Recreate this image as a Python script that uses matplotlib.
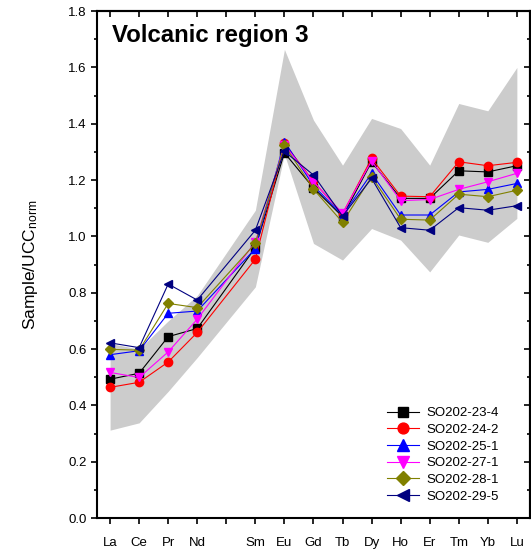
import numpy as np
import matplotlib
matplotlib.use("Agg")
import matplotlib.pyplot as plt

plt.rcParams["font.family"] = ["Liberation Sans", "DejaVu Sans"]
plt.rcParams["mathtext.default"] = "regular"

# REE sequence (Pm kept as an empty slot on the axis)
ree = ["La", "Ce", "Pr", "Nd", "Pm", "Sm", "Eu", "Gd", "Tb", "Dy",
       "Ho", "Er", "Tm", "Yb", "Lu"]
elements = ["La", "Ce", "Pr", "Nd", "Sm", "Eu", "Gd", "Tb", "Dy",
            "Ho", "Er", "Tm", "Yb", "Lu"]

# grey envelope (range of the region)
band_upper = [0.62, 0.60, 0.70, 0.79, 1.093, 1.664, 1.413, 1.253, 1.419,
              1.383, 1.253, 1.472, 1.446, 1.600]
band_lower = [0.312, 0.338, 0.45, 0.57, 0.821, 1.292, 0.975, 0.916, 1.028,
              0.987, 0.874, 1.005, 0.979, 1.064]

so202_23_4 = [0.493, 0.514, 0.644, 0.673, 0.960, 1.297, 1.172, 1.070, 1.265,
              1.135, 1.135, 1.233, 1.229, 1.251]
so202_24_2 = [0.464, 0.482, 0.554, 0.659, 0.919, 1.330, 1.195, 1.080, 1.277,
              1.143, 1.141, 1.265, 1.251, 1.263]
so202_25_1 = [0.580, 0.594, 0.727, 0.735, 0.957, 1.337, 1.180, 1.075, 1.224,
              1.076, 1.076, 1.158, 1.167, 1.188]
so202_27_1 = [0.517, 0.499, 0.590, 0.706, 0.980, 1.325, 1.194, 1.082, 1.268,
              1.127, 1.131, 1.167, 1.194, 1.224]
so202_28_1 = [0.599, 0.596, 0.762, 0.747, 0.975, 1.324, 1.168, 1.050, 1.212,
              1.061, 1.058, 1.150, 1.141, 1.164]
so202_29_5 = [0.622, 0.605, 0.831, 0.774, 1.022, 1.302, 1.218, 1.072, 1.206,
              1.031, 1.022, 1.102, 1.093, 1.109]

samples = ["SO202-23-4", "SO202-24-2", "SO202-25-1",
           "SO202-27-1", "SO202-28-1", "SO202-29-5"]
series = [so202_23_4, so202_24_2, so202_25_1,
          so202_27_1, so202_28_1, so202_29_5]
colors = ["#000000", "#FF0000", "#0000FF", "#FF00FF", "#808000", "#000080"]
markers = ["s", "o", "^", "v", "D", "<"]
msizes = [5.2, 6.0, 6.2, 6.2, 5.2, 6.2]

x = np.array([ree.index(e) + 1 for e in elements])

fig = plt.figure(figsize=(5.31, 5.56), dpi=100)
ax = fig.add_axes([0.1827, 0.0683, 0.8153, 0.9117])

ax.fill_between(x, band_lower, band_upper, color="#CCCCCC", linewidth=0, zorder=1)

for name, vals, c, m, ms in zip(samples, series, colors, markers, msizes):
    ax.plot(x, vals, color=c, marker=m, markersize=ms, linewidth=0.8,
            markeredgecolor=c, label=name, zorder=3)

ax.set_xlim(0.55, 15.45)
ax.set_ylim(0, 1.8)
ax.set_xticks(np.arange(1, len(ree) + 1))
ax.set_xticklabels([e if e != "Pm" else "" for e in ree], fontsize=9.5)
ax.set_yticks(np.arange(0, 1.81, 0.2))
ax.set_yticks(np.arange(0.1, 1.8, 0.2), minor=True)
ax.yaxis.set_major_formatter(matplotlib.ticker.FormatStrFormatter("%.1f"))
ax.tick_params(axis="y", labelsize=9.5)

ax.tick_params(which="major", direction="out", length=4.5, width=1.2,
               top=False, right=False)
ax.tick_params(which="minor", direction="out", length=2.5, width=1.2)
ax.tick_params(axis="x", pad=9)
ax.tick_params(axis="y", pad=3)

# inward ticks on the top and right edges
axt = ax.secondary_xaxis("top")
axt.set_xticks(np.arange(1, len(ree) + 1))
axt.tick_params(direction="in", length=4.5, width=1.2, labeltop=False)
axr = ax.secondary_yaxis("right")
axr.set_yticks(np.arange(0, 1.81, 0.2))
axr.set_yticks(np.arange(0.1, 1.8, 0.2), minor=True)
axr.tick_params(which="major", direction="in", length=4.5, width=1.2, labelright=False)
axr.tick_params(which="minor", direction="in", length=2.5, width=1.2)
for a in (axt, axr):
    for s in a.spines.values():
        s.set_linewidth(1.5)

for s in ax.spines.values():
    s.set_linewidth(1.5)

ax.set_ylabel("Sample/UCC$_{norm}$", fontsize=12.5, labelpad=20)

ax.text(0.035, 0.951, "Volcanic region 3", transform=ax.transAxes,
        fontsize=17.3, fontweight="bold", va="center", ha="left")

ax.legend(loc="lower left", bbox_to_anchor=(0.67, 0.03), frameon=False,
          fontsize=9.5, borderpad=0, borderaxespad=0, handlelength=2.4,
          handletextpad=0.6, labelspacing=0.34, markerscale=1.3)

plt.savefig("out.png", dpi=100)
plt.close()
